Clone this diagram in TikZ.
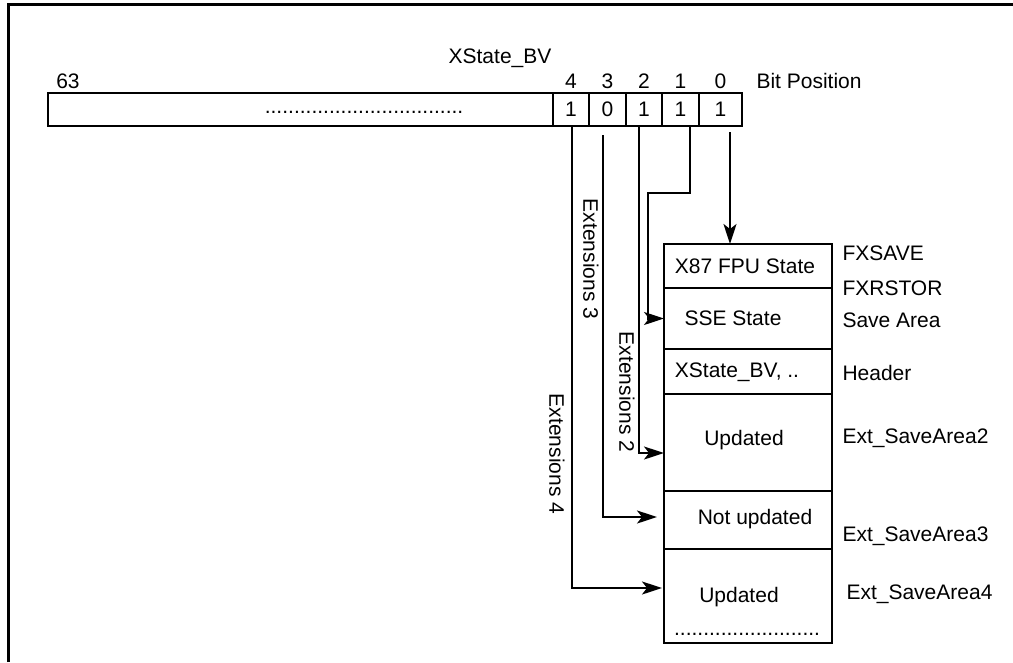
\documentclass[tikz,border=0pt]{standalone}
\usepackage{fontspec}
\setmainfont{Liberation Sans}
\usetikzlibrary{arrows.meta}

\begin{document}
\begin{tikzpicture}[x=1pt,y=-1pt,
    every node/.style={font=\fontsize{21}{25}\selectfont},
    cell/.style={draw, line width=2pt, inner sep=0pt, outer sep=0pt, minimum height=33pt},
    area/.style={draw, line width=2pt, inner sep=0pt, outer sep=0pt, minimum width=168pt},
    wire/.style={line width=2pt},
    arr/.style={line width=2pt, -{Stealth[length=20pt,width=13pt,inset=5pt]}}]
    \useasboundingbox (0,0) rectangle (1013,662);

    % frame
    \draw[line width=3pt] (8.5,662) -- (8.5,4) -- (1013,4);

    % register
    \node[cell, minimum width=505pt] (msb) at (300.5,109.5) {};
    \node[cell, minimum width=36pt] (b4) at (571,109.5) {1};
    \node[cell, minimum width=37pt] (b3) at (607.5,109.5) {0};
    \node[cell, minimum width=36pt] (b2) at (644,109.5) {1};
    \node[cell, minimum width=37pt] (b1) at (680.5,109.5) {1};
    \node[cell, minimum width=43pt] (b0) at (720.5,109.5) {1};
    \node (dots) at (364,112) {..................................};

    % bit numbers
    \foreach \b in {0,...,4}
      \node[anchor=base] (n\b) at ([yshift=5pt]b\b.north) {\b};
    \node[anchor=base] (n63) at ([yshift=5pt]68,93) {63};
    \node (xbv) at (500,58) {XState\_BV};
    \node[anchor=west] (bitpos) at (753,81) {Bit Position};

    % save area
    \node[area, minimum height=44pt] (fpu) at (748,266) {};
    \node[area, minimum height=61pt] (sse) at (748,318.5) {};
    \node[area, minimum height=45pt] (hdr) at (748,371.5) {};
    \node[area, minimum height=97pt] (ext2) at (748,442.5) {};
    \node[area, minimum height=58pt] (ext3) at (748,520) {};
    \node[area, minimum height=94pt] (ext4) at (748,596) {};

    \node (tfpu) at (745,266) {X87 FPU State};
    \node (tsse) at (733,318) {SSE State};
    \node (thdr) at (737,372) {XState\_BV, ..};
    \node (text2) at (744,440) {Updated};
    \node (text3) at (755,519) {Not updated};
    \node (text4) at (739,597) {Updated};
    \node (tdots) at (747,634) {.........................};

    % names on the right
    \node[anchor=west] (fxsave) at (839,253) {FXSAVE};
    \node[anchor=west] (fxrstor) at (839,288) {FXRSTOR};
    \node[anchor=west] (savearea) at (839,320) {Save Area};
    \node[anchor=west] (header) at (839,373) {Header};
    \node[anchor=west] (sa2) at (839,438) {Ext\_SaveArea2};
    \node[anchor=west] (sa3) at (839,536) {Ext\_SaveArea3};
    \node[anchor=west] (sa4) at (843,594) {Ext\_SaveArea4};

    % bits to areas
    \coordinate (s0) at ([xshift=9.5pt,yshift=-6pt]b0.south);
    \coordinate (s1) at ([xshift=9.5pt]b1.south);
    \coordinate (s3) at ([xshift=-4.5pt,yshift=-9pt]b3.south);
    \coordinate (bend1) at (648,193);
    \draw[arr] (s0) -- (s0 |- fpu.north);
    \draw[arr] (s1) |- (bend1) |- (sse.west);
    \draw[arr] ([xshift=-5pt]b2.south) |- ([yshift=-10.5pt]ext2.west);
    \draw[arr] (s3) |- ([xshift=-7pt,yshift=3pt]ext3.west);
    \draw[arr] ([xshift=1pt]b4.south) |- ([xshift=-2pt,yshift=8pt]ext4.west);

    % labels on the lines
    \node[rotate=-90] (e3) at (591,259) {Extensions 3};
    \node[rotate=-90] (e2) at (627,392) {Extensions 2};
    \node[rotate=-90] (e4) at (557,454) {Extensions 4};
\end{tikzpicture}
\end{document}
